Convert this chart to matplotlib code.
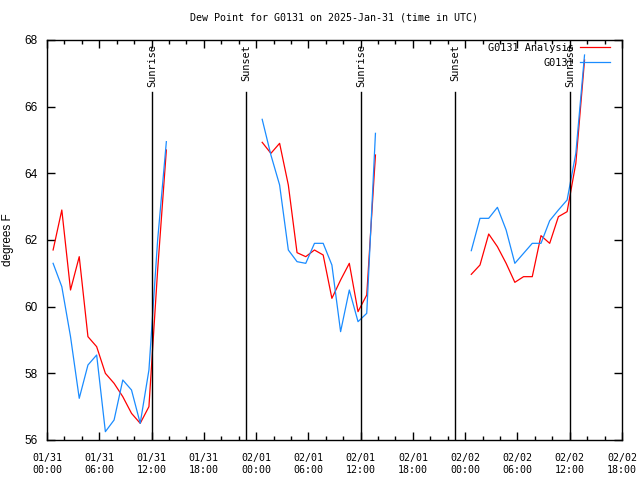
import numpy as np
import pandas as pd
import matplotlib
matplotlib.use('Agg')
import matplotlib.pyplot as plt
import matplotlib.dates as mdates
import matplotlib.transforms as mtransforms

MONO = 'DejaVu Sans Mono'
SANS = 'Liberation Sans'

# hourly obs, three stretches with missing data between them
seg_starts = ['2025-01-31 00:42', '2025-02-01 00:42', '2025-02-02 00:42']

analysis_1 = [61.7, 62.9, 60.5, 61.5, 59.1, 58.8, 58.0, 57.7, 57.3, 56.8, 56.5, 57.0, 61.1, 64.7]
station_1 = [61.3, 60.6, 59.1, 57.25, 58.25, 58.55, 56.25, 56.6, 57.8, 57.5, 56.5, 58.1, 62.0, 64.95]

analysis_2 = [64.93, 64.6, 64.9, 63.65, 61.62, 61.5, 61.7, 61.55, 60.25, 60.8, 61.3, 59.85, 60.35, 64.55]
station_2 = [65.62, 64.55, 63.65, 61.7, 61.35, 61.3, 61.9, 61.9, 61.25, 59.25, 60.5, 59.55, 59.8, 65.2]

analysis_3 = [60.97, 61.25, 62.18, 61.8, 61.3, 60.73, 60.9, 60.9, 62.13, 61.9, 62.7, 62.85, 64.3, 67.4]
station_3 = [61.68, 62.65, 62.65, 62.98, 62.3, 61.3, 61.6, 61.9, 61.9, 62.58, 62.9, 63.2, 64.6, 67.55]

analysis_segs = [analysis_1, analysis_2, analysis_3]
station_segs = [station_1, station_2, station_3]

sun_times = ['2025-01-31 12:03', '2025-01-31 22:50', '2025-02-01 12:03',
             '2025-02-01 22:52', '2025-02-02 12:04']
sun_labels = ['Sunrise', 'Sunset', 'Sunrise', 'Sunset', 'Sunrise']

fig = plt.figure(figsize=(6.4, 4.8), dpi=100)
ax = fig.add_axes([47 / 640, 40 / 480, 575 / 640, 400 / 480])

for i, start in enumerate(seg_starts):
    t = pd.date_range(start, periods=len(analysis_segs[i]), freq='h')
    ax.plot(t, analysis_segs[i], color='#ff0000', lw=0.9,
            label='G0131 Analysis' if i == 0 else None)
    ax.plot(t, station_segs[i], color='#1a8cff', lw=0.9,
            label='G0131' if i == 0 else None)

# sunrise / sunset markers
trans = mtransforms.blended_transform_factory(ax.transData, ax.transAxes)
for st, lab in zip(sun_times, sun_labels):
    x = mdates.date2num(pd.Timestamp(st))
    ax.plot([x, x], [0, 0.87], color='black', lw=1.0, transform=trans)
    ax.text(x, 0.99, lab, rotation=90, ha='center', va='top', transform=trans,
            fontsize=7.4, family=MONO)

ax.set_xlim(pd.Timestamp('2025-01-31 00:00'), pd.Timestamp('2025-02-02 18:00'))
ax.set_ylim(56, 68)
ax.set_yticks(np.arange(56, 69, 2))

ax.xaxis.set_major_locator(mdates.HourLocator(byhour=[0, 6, 12, 18]))
ax.xaxis.set_minor_locator(mdates.HourLocator(byhour=range(0, 24, 2)))
ax.xaxis.set_major_formatter(mdates.DateFormatter('%m/%d\n%H:%M'))

ax.tick_params(which='both', direction='in', top=True, right=True, width=1)
ax.tick_params(which='major', length=6)
ax.tick_params(which='minor', length=3)
ax.tick_params(axis='x', pad=9)
ax.tick_params(axis='y', pad=7)
for lab in ax.get_xticklabels():
    lab.set_fontfamily(MONO)
    lab.set_fontsize(7.2)
    lab.set_linespacing(1.35)
for lab in ax.get_yticklabels():
    lab.set_fontfamily(SANS)
    lab.set_fontsize(8.5)

for sp in ax.spines.values():
    sp.set_linewidth(1.0)

ax.set_ylabel('degrees F', family=SANS, fontsize=8.5, labelpad=7)
ax.set_title('Dew Point for G0131 on 2025-Jan-31 (time in UTC)',
             family=MONO, fontsize=7.2, pad=14)

ax.legend(loc='upper right', bbox_to_anchor=((610 - 47) / 575, (440 - 43) / 400),
          frameon=False, markerfirst=False, borderaxespad=0, borderpad=0,
          handlelength=2.9, handletextpad=0.6, labelspacing=0.45,
          prop={'family': MONO, 'size': 7.4})

fig.savefig('out.png', dpi=100)
